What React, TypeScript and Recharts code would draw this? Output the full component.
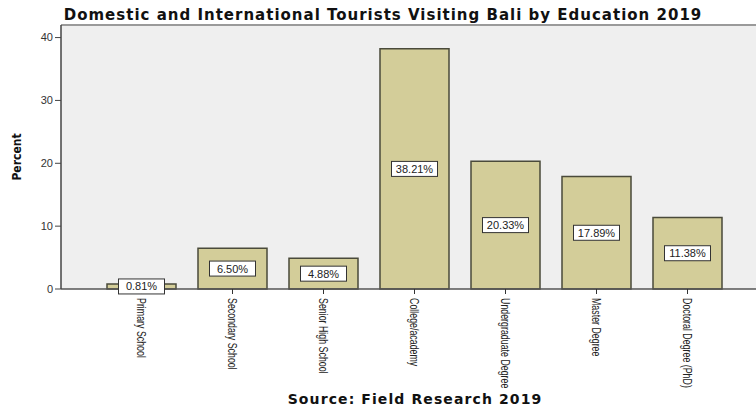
import React from 'react';
import {
  BarChart,
  Bar,
  XAxis,
  YAxis,
  CartesianGrid,
  ReferenceLine,
  LabelList,
} from 'recharts';

const categories = [
  'Primary School',
  'Secondary School',
  'Senior High School',
  'College/academy',
  'Undergraduate Degree',
  'Master Degree',
  'Doctoral Degree (PhD)',
];
const percents = [0.81, 6.5, 4.88, 38.21, 20.33, 17.89, 11.38];
const yTicks = [0, 10, 20, 30, 40];

const chartData = categories.map((name, i) => ({ name, value: percents[i] }));

const ValueBox = (props: any) => {
  const { x, y, width, height, value } = props;
  const cx = x + width / 2;
  const cy = y + height / 2;
  const text = `${Number(value).toFixed(2)}%`;
  const w = 46;
  const h = 15;
  return (
    <g>
      <rect x={cx - w / 2} y={cy - h / 2} width={w} height={h} fill="#fff" stroke="#333" strokeWidth={1} />
      <text
        x={cx}
        y={cy + 4}
        textAnchor="middle"
        fontSize={11}
        fontFamily='"Liberation Sans", Arial, sans-serif'
        fill="#222"
      >
        {text}
      </text>
    </g>
  );
};

// SPSS style: labels turned 90deg, squeezed along the text direction
const RotatedTick = (props: any) => {
  const { x, y, payload } = props;
  return (
    <g transform={`translate(${x},${y + 2})`}>
      <text
        transform="rotate(90) scale(0.68,1)"
        x={0}
        y={4.5}
        textAnchor="start"
        fontSize={13}
        fontFamily='"Liberation Sans", Arial, sans-serif'
        fill="#222"
      >
        {payload.value}
      </text>
    </g>
  );
};

const App: React.FC = () => {
  return (
    <div style={{ position: 'absolute', left: 0, top: 0, width: 756, height: 407, background: '#fff', overflow: 'hidden' }}>
      <div
        style={{
          position: 'absolute',
          left: 0,
          top: 6,
          width: 766,
          textAlign: 'center',
          fontFamily: '"DejaVu Sans", sans-serif',
          fontWeight: 'bold',
          fontSize: 15,
          letterSpacing: 1,
          color: '#111',
          whiteSpace: 'nowrap',
        }}
      >
        Domestic and International Tourists Visiting Bali by Education 2019
      </div>
      <div style={{ position: 'absolute', left: 7, top: 147, width: 20, height: 20 }}>
        <div
          style={{
            transform: 'rotate(-90deg)',
            transformOrigin: 'center',
            fontFamily: '"DejaVu Sans Condensed", "DejaVu Sans", sans-serif',
            fontWeight: 'bold',
            fontSize: 12,
            color: '#111',
            width: 20,
            lineHeight: '20px',
            whiteSpace: 'nowrap',
            display: 'flex',
            justifyContent: 'center',
          }}
        >
          Percent
        </div>
      </div>
      <div
        style={{
          position: 'absolute',
          left: 0,
          top: 391,
          width: 830,
          textAlign: 'center',
          fontFamily: '"DejaVu Sans", sans-serif',
          fontWeight: 'bold',
          fontSize: 14,
          letterSpacing: 1.1,
          color: '#111',
          whiteSpace: 'nowrap',
        }}
      >
        Source: Field Research 2019
      </div>
      <BarChart
        width={756}
        height={407}
        data={chartData}
        margin={{ top: 25, right: 0, left: 0, bottom: 0 }}
        style={{ position: 'absolute', left: 0, top: 0 }}
      >
        <CartesianGrid horizontal={false} vertical={false} fill="#efefef" />
        <ReferenceLine y={42} stroke="#9a9a9a" strokeWidth={2} />
        <XAxis
          dataKey="name"
          interval={0}
          height={118}
          padding={{ left: 35, right: 23 }}
          axisLine={{ stroke: '#555', strokeWidth: 1.5 }}
          tickLine={{ stroke: '#333' }}
          tickSize={5}
          tick={<RotatedTick />}
        />
        <YAxis
          width={61}
          domain={[0, 42]}
          ticks={yTicks}
          axisLine={{ stroke: '#444', strokeWidth: 1.5 }}
          tickLine={{ stroke: '#444' }}
          tickSize={6}
          tick={{ fill: '#333', fontSize: 11, fontFamily: '"Liberation Sans", Arial, sans-serif' }}
        />
        <Bar
          dataKey="value"
          barSize={69}
          fill="#d3cd99"
          stroke="#4a4a3a"
          strokeWidth={1.5}
          isAnimationActive={false}
        >
          <LabelList dataKey="value" content={<ValueBox />} />
        </Bar>
      </BarChart>
    </div>
  );
};

export default App;
